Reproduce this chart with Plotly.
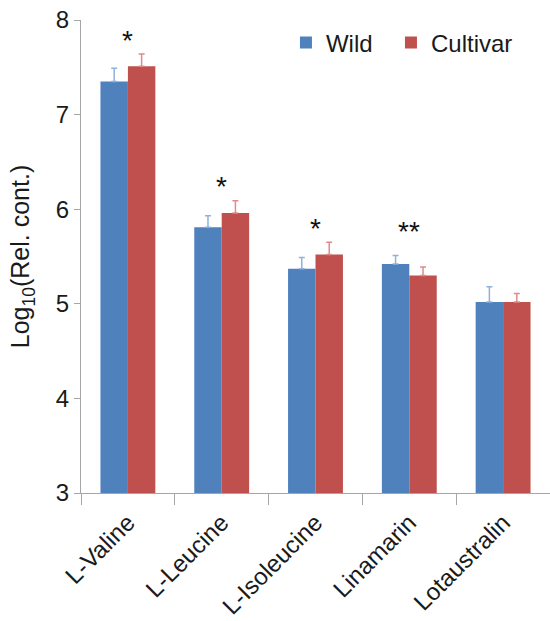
import plotly.graph_objects as go

# Metabolite levels (log10 relative content), means and upper error
compounds = ["L-Valine", "L-Leucine", "L-Isoleucine", "Linamarin", "Lotaustralin"]
wild_mean = [7.35, 5.81, 5.37, 5.42, 5.02]
wild_err = [0.14, 0.12, 0.12, 0.09, 0.16]
cultivar_mean = [7.51, 5.96, 5.52, 5.30, 5.02]
cultivar_err = [0.13, 0.13, 0.13, 0.09, 0.09]

# Significance marks above each pair
sig_labels = ["*", "*", "*", "**", ""]
sig_y = [7.78, 6.24, 5.80, 5.76, None]

FONT = "Liberation Sans, Arial, sans-serif"
BLUE = "#4F81BD"
RED = "#C0504D"

fig = go.Figure()
fig.add_trace(go.Bar(
    name="Wild&nbsp;&nbsp;", x=compounds, y=wild_mean,
    marker=dict(color=BLUE, line=dict(width=0)),
    error_y=dict(type="data", array=wild_err, symmetric=False,
                 arrayminus=[0] * len(wild_err),
                 color="#8FB1DD", thickness=1.5, width=3),
))
fig.add_trace(go.Bar(
    name="Cultivar", x=compounds, y=cultivar_mean,
    marker=dict(color=RED, line=dict(width=0)),
    error_y=dict(type="data", array=cultivar_err, symmetric=False,
                 arrayminus=[0] * len(cultivar_err),
                 color="#DD8C8B", thickness=1.5, width=3),
))

for c, lab, yv in zip(compounds, sig_labels, sig_y):
    if lab:
        fig.add_annotation(x=c, y=yv, text=lab, showarrow=False,
                           xref="x", yref="y", yanchor="middle",
                           font=dict(family=FONT, size=28, color="#111111"))

fig.update_layout(
    width=550, height=621,
    margin=dict(l=81, r=0, t=20, b=128),
    paper_bgcolor="white", plot_bgcolor="white",
    barmode="group", bargap=0.415, bargroupgap=0,
    font=dict(family=FONT, color="#1a1a1a"),
    showlegend=True,
    legend=dict(orientation="h", x=0.437, y=0.999, xanchor="left", yanchor="top",
                font=dict(family=FONT, size=24, color="#1a1a1a"),
                bgcolor="rgba(0,0,0,0)", itemclick=False),
    xaxis=dict(
        type="category", tickson="boundaries", ticks="outside", ticklen=11,
        tickcolor="#A6A6A6", tickwidth=1.2,
        showline=True, linecolor="#A6A6A6", linewidth=1.2,
        tickangle=-45, ticklabelstandoff=5,
        tickfont=dict(family=FONT, size=24, color="#1a1a1a"),
        showgrid=False, zeroline=False,
    ),
    yaxis=dict(
        range=[3, 8], tickvals=[3, 4, 5, 6, 7, 8], ticks="outside", ticklen=6,
        tickcolor="#A6A6A6", tickwidth=1.2,
        showline=True, linecolor="#A6A6A6", linewidth=1.2,
        tickfont=dict(family=FONT, size=24, color="#1a1a1a"),
        showgrid=False, zeroline=False,
        title=dict(text="Log<sub>10</sub>(Rel. cont.)",
                   font=dict(family=FONT, size=25, color="#1a1a1a"), standoff=18),
    ),
)

fig.write_html("out.html")
